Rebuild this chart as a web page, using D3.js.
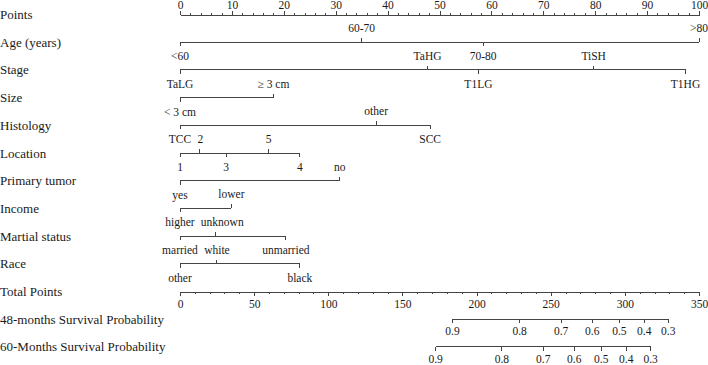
<html>
<style>
body { margin: 0; background: #fff; }
svg, svg text { font-family: "Liberation Serif", "DejaVu Serif", "Times New Roman", Times, serif !important; fill: #1a1a1a; }
.axis path, .axis line, .scale line { stroke: #444; fill: none; shape-rendering: crispEdges; }
</style>
<svg width="708" height="365"></svg>
<script src="https://d3js.org/d3.v7.min.js"></script>
<script>

// row names, top to bottom
var rowNames = ["Points", "Age (years)", "Stage", "Size", "Histology", "Location",
    "Primary tumor", "Income", "Martial status", "Race", "Total Points",
    "48-months Survival Probability", "60-Months Survival Probability"];

// predictor levels and their points (0-100 scale)
var ageLevels = ["<60", "60-70", "70-80", ">80"];
var agePoints = [0, 35, 58.4, 100];
var stageLevels = ["TaLG", "TaHG", "T1LG", "TiSH", "T1HG"];
var stagePoints = [0, 47.7, 57.5, 79.7, 97.4];
var sizeLevels = ["< 3 cm", "\u2265 3 cm"];
var sizePoints = [0, 18];
var histologyLevels = ["TCC", "other", "SCC"];
var histologyPoints = [0, 37.8, 48.2];
var locationLevels = ["1", "2", "3", "5", "4"];
var locationPoints = [0, 3.7, 8.9, 17.1, 23.1];
var primaryLevels = ["yes", "no"];
var primaryPoints = [0, 30.8];
var incomeLevels = ["higher", "lower"];
var incomePoints = [0, 9.9];
var maritalLevels = ["married", "unknown", "unmarried"];
var maritalPoints = [0, 6.9, 20.4];
var raceLevels = ["other", "white", "black"];
var racePoints = [0, 7.1, 23.1];

// axis ticks
var pointsMajor = [0, 10, 20, 30, 40, 50, 60, 70, 80, 90, 100];
var pointsMinor = [2, 4, 6, 8, 12, 14, 16, 18, 22, 24, 26, 28, 32, 34, 36, 38, 42, 44, 46, 48,
    52, 54, 56, 58, 62, 64, 66, 68, 72, 74, 76, 78, 82, 84, 86, 88, 92, 94, 96, 98];
var totalMajor = [0, 50, 100, 150, 200, 250, 300, 350];
var totalMinor = [10, 20, 30, 40, 60, 70, 80, 90, 110, 120, 130, 140, 160, 170, 180, 190,
    210, 220, 230, 240, 260, 270, 280, 290, 310, 320, 330, 340];

// survival probabilities and matching total points
var survLabels = ["0.9", "0.8", "0.7", "0.6", "0.5", "0.4", "0.3"];
var surv48Total = [183.8, 229, 257, 278, 296.3, 313.1, 329.3];
var surv60Total = [172.4, 217.1, 245, 265.9, 284.1, 300.9, 317.4];

var svg = d3.select("svg"),
    left = 180, right = 699,
    serif = "'Liberation Serif', 'DejaVu Serif', serif";

var x = d3.scaleLinear().domain([0, 100]).range([left, right]);
var xt = d3.scaleLinear().domain([0, 350]).range([left, right]);
var y = d3.scaleLinear().domain([0, rowNames.length - 1]).range([14.5, 346.9]);

svg.selectAll(".rowname")
    .data(rowNames)
  .enter().append("text")
    .attr("class", "rowname")
    .attr("x", 0)
    .attr("y", (d, i) => y(i))
    .attr("dy", "0.35em")
    .attr("font-family", serif)
    .attr("font-size", 13)
    .text(d => d);

// Points axis on top
var gp = svg.append("g").attr("class", "axis")
    .attr("transform", "translate(0," + y(0) + ")");
gp.call(d3.axisTop(x).tickValues(pointsMinor).tickSize(2).tickSizeOuter(0).tickFormat(""));
gp.append("g").call(d3.axisTop(x).tickValues(pointsMajor).tickSize(4).tickSizeOuter(0).tickPadding(2))
    .select(".domain").remove();

// Total points axis
var gt = svg.append("g").attr("class", "axis")
    .attr("transform", "translate(0," + y(10) + ")");
gt.call(d3.axisBottom(xt).tickValues(totalMinor).tickSize(2).tickSizeOuter(0).tickFormat(""));
gt.append("g").call(d3.axisBottom(xt).tickValues(totalMajor).tickSize(4).tickSizeOuter(0).tickPadding(4))
    .select(".domain").remove();

svg.selectAll(".axis g").attr("font-family", serif).attr("font-size", 11.5);
svg.selectAll(".axis text").attr("fill", "#1a1a1a");

// categorical scales, labels alternate below / above
function drawScale(row, levels, values, scale) {
    var g = svg.append("g").attr("class", "scale")
        .attr("transform", "translate(0," + y(row) + ")");
    var items = levels.map((l, i) => ({label: l, v: values[i]}));
    items.sort((a, b) => a.v - b.v);
    g.append("line")
        .attr("x1", scale(d3.min(values))).attr("x2", scale(d3.max(values)));
    items.forEach((d, i) => {
        var up = i % 2 === 1;
        g.append("line")
            .attr("x1", scale(d.v)).attr("x2", scale(d.v))
            .attr("y1", 0).attr("y2", up ? -4 : 4);
        g.append("text")
            .attr("class", "lvl")
            .attr("x", scale(d.v))
            .attr("y", up ? -10 : 18)
            .attr("text-anchor", "middle")
            .attr("font-family", serif)
            .attr("font-size", 11.5)
            .datum({base: y(row) + (up ? -10 : 18)})
            .text(d.label);
    });
}

drawScale(1, ageLevels, agePoints, x);
drawScale(2, stageLevels, stagePoints, x);
drawScale(3, sizeLevels, sizePoints, x);
drawScale(4, histologyLevels, histologyPoints, x);
drawScale(5, locationLevels, locationPoints, x);
drawScale(6, primaryLevels, primaryPoints, x);
drawScale(7, incomeLevels, incomePoints, x);
drawScale(8, maritalLevels, maritalPoints, x);
drawScale(9, raceLevels, racePoints, x);

// labels of neighbouring rows share a baseline: push overlapping ones right
var lines = d3.group(svg.selectAll(".lvl").nodes(), n => Math.round(d3.select(n).datum().base));
lines.forEach(nodes => {
    nodes.sort((a, b) => a.getBBox().x - b.getBBox().x);
    var prevRight = -Infinity;
    nodes.forEach(n => {
        var b = n.getBBox();
        if (b.x < prevRight + 6) {
            var dx = prevRight + 6 - b.x;
            d3.select(n).attr("x", +d3.select(n).attr("x") + dx);
            b = n.getBBox();
        }
        prevRight = b.x + b.width;
    });
});

// survival scales, all labels below
function drawSurv(row, totals) {
    var g = svg.append("g").attr("class", "scale")
        .attr("transform", "translate(0," + y(row) + ")");
    g.append("line")
        .attr("x1", xt(d3.min(totals))).attr("x2", xt(d3.max(totals)));
    g.selectAll(".tk").data(totals).enter().append("line")
        .attr("x1", d => xt(d)).attr("x2", d => xt(d))
        .attr("y1", 0).attr("y2", 4);
    g.selectAll("text").data(totals).enter().append("text")
        .attr("x", d => xt(d))
        .attr("y", 16)
        .attr("text-anchor", "middle")
        .attr("font-family", serif)
        .attr("font-size", 11.5)
        .text((d, i) => survLabels[i]);
}

drawSurv(11, surv48Total);
drawSurv(12, surv60Total);

</script>
</html>
